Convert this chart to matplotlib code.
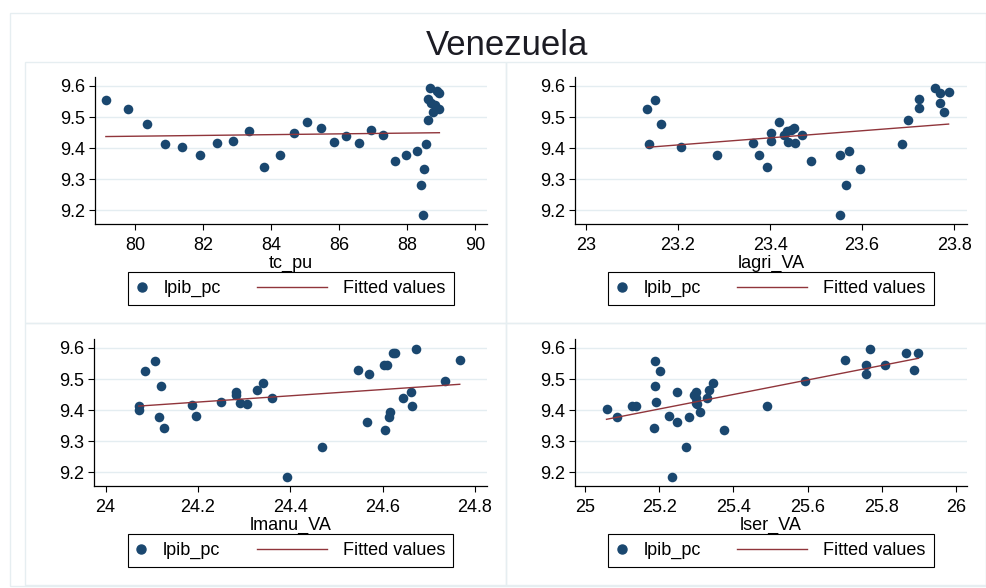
import numpy as np
import matplotlib
matplotlib.use('Agg')
import matplotlib.pyplot as plt
from matplotlib.patches import Rectangle
from matplotlib.lines import Line2D
from matplotlib.legend_handler import HandlerBase

plt.rcParams['font.family'] = 'Liberation Sans'

# scatter data (y is lpib_pc)
tc_pu = [79.14, 79.78, 80.34, 80.88, 81.39, 81.90, 82.40, 82.87, 83.36, 83.80,
         84.25, 84.68, 85.07, 85.46, 85.85, 86.21, 86.59, 86.94, 87.30, 87.63,
         87.97, 88.29, 88.50, 88.42, 88.46, 88.56, 88.60, 88.62, 88.68, 88.70,
         88.75, 88.83, 88.87, 88.93, 88.95]
lpib_tc = [9.555, 9.525, 9.477, 9.413, 9.402, 9.376, 9.415, 9.424, 9.454, 9.340,
           9.378, 9.447, 9.484, 9.465, 9.419, 9.439, 9.415, 9.458, 9.441, 9.359,
           9.376, 9.391, 9.333, 9.281, 9.184, 9.413, 9.490, 9.557, 9.592, 9.544,
           9.516, 9.540, 9.583, 9.578, 9.527]

lagri_VA = [23.133, 23.150, 23.163, 23.136, 23.207, 23.285, 23.362, 23.377, 23.393, 23.401,
            23.401, 23.420, 23.436, 23.446, 23.451, 23.431, 23.438, 23.454, 23.470, 23.488,
            23.551, 23.572, 23.564, 23.595, 23.551, 23.687, 23.699, 23.724, 23.724, 23.758,
            23.769, 23.770, 23.778, 23.788]
lpib_agri = [9.525, 9.555, 9.477, 9.413, 9.402, 9.376, 9.415, 9.378, 9.340, 9.447,
             9.424, 9.484, 9.456, 9.458, 9.465, 9.441, 9.421, 9.415, 9.441, 9.359,
             9.376, 9.391, 9.281, 9.333, 9.184, 9.413, 9.490, 9.557, 9.528, 9.592,
             9.544, 9.578, 9.516, 9.581]

lmanu_VA = [24.072, 24.072, 24.085, 24.108, 24.119, 24.115, 24.126, 24.187, 24.196, 24.249,
            24.282, 24.282, 24.292, 24.307, 24.329, 24.342, 24.360, 24.393, 24.469, 24.547,
            24.570, 24.567, 24.604, 24.609, 24.606, 24.614, 24.617, 24.622, 24.627, 24.644,
            24.661, 24.664, 24.672, 24.736, 24.767]
lpib_manu = [9.413, 9.401, 9.527, 9.558, 9.479, 9.379, 9.342, 9.416, 9.381, 9.425,
             9.457, 9.450, 9.422, 9.418, 9.466, 9.486, 9.439, 9.184, 9.282, 9.530,
             9.517, 9.361, 9.546, 9.544, 9.334, 9.378, 9.394, 9.584, 9.584, 9.440,
             9.458, 9.413, 9.597, 9.492, 9.560]

lser_VA = [25.058, 25.087, 25.126, 25.138, 25.186, 25.189, 25.202, 25.189, 25.192, 25.226,
           25.235, 25.249, 25.249, 25.271, 25.281, 25.294, 25.299, 25.298, 25.299, 25.303,
           25.310, 25.328, 25.334, 25.346, 25.375, 25.490, 25.594, 25.702, 25.757, 25.758,
           25.769, 25.808, 25.865, 25.886, 25.899]
lpib_ser = [9.403, 9.379, 9.413, 9.413, 9.342, 9.558, 9.527, 9.479, 9.425, 9.381,
            9.184, 9.457, 9.361, 9.282, 9.378, 9.450, 9.459, 9.439, 9.422, 9.418,
            9.394, 9.439, 9.466, 9.486, 9.334, 9.413, 9.492, 9.560, 9.517, 9.546,
            9.597, 9.544, 9.584, 9.530, 9.584]

yticks = [9.2, 9.3, 9.4, 9.5, 9.6]

NAVY = '#1a476f'
MAROON = '#90353b'
GRID = '#e4edf1'
FRAME = '#e6eef1'

W, H = 987, 588


def rect(l, t, r, b):
    return [l / W, 1 - b / H, (r - l) / W, (b - t) / H]


class DotHandler(HandlerBase):
    def create_artists(self, legend, orig_handle, xdescent, ydescent,
                       width, height, fontsize, trans):
        y = height / 2 - ydescent
        art = Line2D([-xdescent + 0.3 * fontsize], [y], marker='o', ls='none',
                     color=NAVY, markersize=6.5)
        art.set_transform(trans)
        return [art]


class LongLineHandler(HandlerBase):
    def create_artists(self, legend, orig_handle, xdescent, ydescent,
                       width, height, fontsize, trans):
        y = height / 2 - ydescent
        art = Line2D([-xdescent - 3.27 * fontsize, -xdescent + 0.61 * fontsize],
                     [y, y], color=MAROON, lw=1.0)
        art.set_transform(trans)
        return [art]


fig = plt.figure(figsize=(W / 100, H / 100), dpi=100)

# outer frame and panel frames
fig.add_artist(Rectangle((10 / W, 1 - 586 / H), 976 / W, 573 / H, transform=fig.transFigure,
                         fill=False, ec=FRAME, lw=1))
for (l, t, r, b) in [(25, 62, 506, 323), (506, 62, 986, 323),
                     (25, 323, 506, 585), (506, 323, 986, 585)]:
    fig.add_artist(Rectangle((l / W, 1 - b / H), (r - l) / W, (b - t) / H,
                             transform=fig.transFigure, fill=False, ec=FRAME, lw=1))

fig.text(507 / W, 1 - 55 / H, 'Venezuela', ha='center', va='baseline',
         fontsize=25, color='#1c1c24')

panels = [
    (tc_pu, lpib_tc, 'tc_pu', (78.82, 90.35), [80, 82, 84, 86, 88, 90], (95, 77, 487, 224)),
    (lagri_VA, lpib_agri, 'lagri_VA', (22.976, 23.828), [23, 23.2, 23.4, 23.6, 23.8], (575, 77, 967, 224)),
    (lmanu_VA, lpib_manu, 'lmanu_VA', (23.975, 24.826), [24, 24.2, 24.4, 24.6, 24.8], (94, 339, 487, 486)),
    (lser_VA, lpib_ser, 'lser_VA', (24.973, 26.03), [25, 25.2, 25.4, 25.6, 25.8, 26], (575, 339, 967, 486)),
]

for x, y, name, xlim, xticks, box in panels:
    ax = fig.add_axes(rect(*box))
    x = np.array(x)
    y = np.array(y)
    for s in ['top', 'right']:
        ax.spines[s].set_visible(False)
    for s in ['left', 'bottom']:
        ax.spines[s].set_linewidth(0.9)
    ax.set_xlim(*xlim)
    ax.set_ylim(9.155, 9.629)
    ax.set_xticks(xticks)
    ax.set_xticklabels([f'{v:g}' for v in xticks])
    ax.set_yticks(yticks)
    ax.set_yticklabels([f'{v:g}' for v in yticks])
    ax.yaxis.grid(True, color=GRID, lw=1)
    ax.set_axisbelow(True)
    ax.tick_params(direction='out', length=4, width=0.8, labelsize=13)
    ax.tick_params(axis='x', pad=5.5)
    ax.tick_params(axis='y', pad=3)

    sc = ax.scatter(x, y, s=48, color=NAVY, lw=0, zorder=3)
    b, a = np.polyfit(x, y, 1)
    xs = np.array([x.min(), x.max()])
    fit, = ax.plot(xs, a + b * xs, color=MAROON, lw=1.0, zorder=4)

    ax.set_xlabel(name, fontsize=13, labelpad=0.5)

    cx = (box[0] + box[2]) / 2
    cy = box[3] + 64.5
    leg = ax.legend([sc, fit], ['lpib_pc', 'Fitted values'], ncol=2,
                    handler_map={sc: DotHandler(), fit: LongLineHandler()},
                    loc='center', bbox_to_anchor=(cx / W, 1 - cy / H),
                    bbox_transform=fig.transFigure, fontsize=13,
                    handlelength=1.0, handletextpad=0.5, columnspacing=5.3,
                    borderpad=0.45, fancybox=False, edgecolor='black',
                    framealpha=1, borderaxespad=0)
    leg.get_frame().set_linewidth(0.8)

fig.savefig('out.png', dpi=100)
